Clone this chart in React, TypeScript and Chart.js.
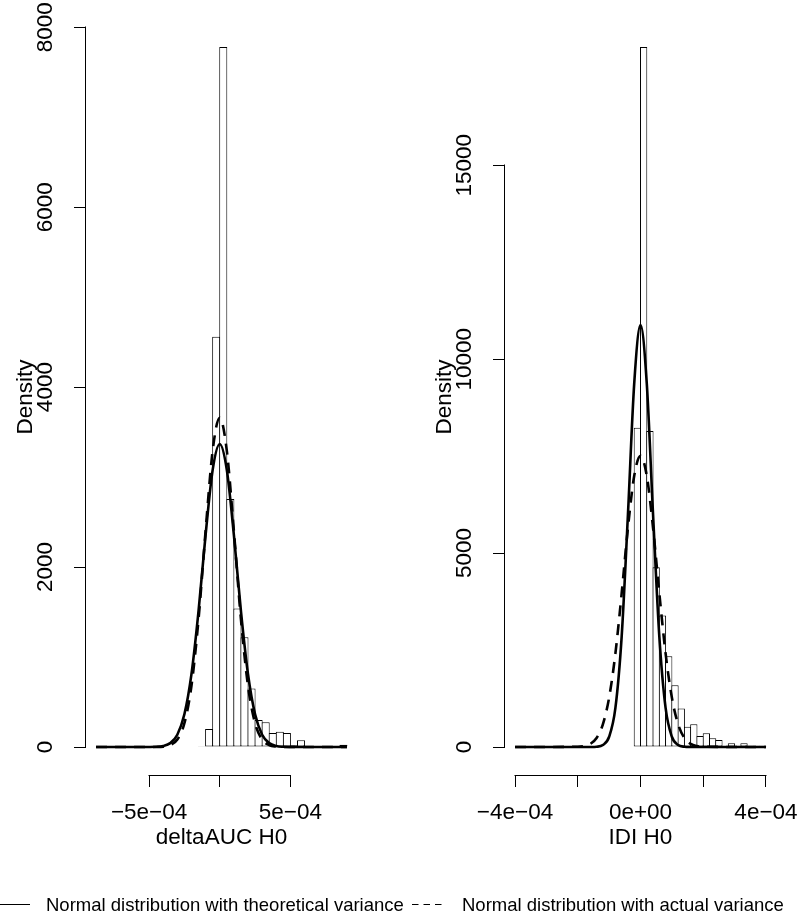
import { useEffect, useRef } from 'react';
import { Chart, registerables } from 'chart.js';

Chart.register(...registerables);

// ---------- Left panel: deltaAUC H0 ----------
const aucBinStart = -1.5e-4;
const aucBinWidth = 5e-5;
const aucDensity = [8, 200, 4560, 7780, 2755, 1540, 1220, 650, 300, 275, 155, 170, 155, 20, 75, 10, 5, 5, 2, 2, 25];
const aucCurveX = [-8.75e-4, -6e-4, -5e-4, -4.5e-4, -4e-4, -3.5e-4, -3e-4, -2.5e-4, -2e-4, -1.5e-4, -1e-4, -5e-5, 0, 5e-5, 1e-4, 1.5e-4, 2e-4, 2.5e-4, 3e-4, 3.5e-4, 4e-4, 4.5e-4, 5e-4, 6e-4, 9e-4];
const aucTheoretical = [0, 0, 0.5, 2.5, 11.3, 43, 136.6, 363.7, 810, 1511, 2358, 3080, 3367, 3080, 2358, 1511, 810, 363.7, 136.6, 43, 11.3, 2.5, 0.5, 0, 0];
const aucActual = [0, 0, 0.1, 0.7, 4.4, 21.1, 82.9, 263.7, 680, 1420, 2403, 3294, 3660, 3294, 2403, 1420, 680, 263.7, 82.9, 21.1, 4.4, 0.7, 0.1, 0, 0];
const aucXTicks = [-5e-4, 0, 5e-4];
const aucXLabels = ['−5e−04', '', '5e−04'];
const aucYTicks = [0, 2000, 4000, 6000, 8000];
const aucYLabels = ['0', '2000', '4000', '6000', '8000'];
const aucXTitle = 'deltaAUC H0';

// ---------- Right panel: IDI H0 ----------
const idiBinStart = -2e-5;
const idiBinWidth = 2e-5;
const idiDensity = [8234, 18050, 8150, 4635, 3393, 2339, 1590, 995, 522, 585, 283, 352, 224, 180, 25, 95, 30, 95, 20, 30, 30];
const idiCurveX = [-4e-4, -2e-4, -1.8e-4, -1.6e-4, -1.4e-4, -1.2e-4, -1e-4, -8e-5, -6e-5, -4e-5, -2e-5, 0, 2e-5, 4e-5, 6e-5, 8e-5, 1e-4, 1.2e-4, 1.4e-4, 1.6e-4, 1.8e-4, 2e-4, 4e-4];
const idiTheoretical = [0, 0, 0.1, 0.8, 7.4, 51.4, 264, 1007, 2853, 6001, 9376, 10880, 9376, 6001, 2853, 1007, 264, 51.4, 7.4, 0.8, 0.1, 0, 0];
const idiActual = [0, 6.2, 24, 80, 232, 584, 1275, 2412, 3965, 5652, 6992, 7506, 6992, 5652, 3965, 2412, 1275, 584, 232, 80, 24, 6.2, 0];
const idiXTicks = [-4e-4, -2e-4, 0, 2e-4, 4e-4];
const idiXLabels = ['−4e−04', '', '0e+00', '', '4e−04'];
const idiYTicks = [0, 5000, 10000, 15000];
const idiYLabels = ['0', '5000', '10000', '15000'];
const idiXTitle = 'IDI H0';

const yTitle = 'Density';
const legendLabels = ['Normal distribution with theoretical variance', 'Normal distribution with actual variance'];

const FAMILY = '"Liberation Sans", Arial, Helvetica, sans-serif';
const TICK_SIZE = 22.5;
const LEGEND_SIZE = 18.5;

function measure(text: string, size: number) {
  const c = document.createElement('canvas').getContext('2d')!;
  c.font = `${size}px ${FAMILY}`;
  return c.measureText(text).width;
}

interface PanelSpec {
  binStart: number;
  binWidth: number;
  density: number[];
  curveX: number[];
  theo: number[];
  actual: number[];
  xTicks: number[];
  xLabels: string[];
  yTicks: number[];
  yLabels: string[];
  xTitle: string;
  padRight: number;
  barPct: number;
  legend: boolean;
}

function buildConfig(p: PanelSpec): any {
  const curveLo = p.curveX[0];
  const curveHi = p.curveX[p.curveX.length - 1];
  const histLo = p.binStart;
  const histHi = p.binStart + p.binWidth * p.density.length;
  const lo = Math.min(curveLo, histLo);
  const hi = Math.max(curveHi, histHi);
  const xPad = (hi - lo) * 0.04;
  const yMax = Math.max(...p.density);
  const yPad = yMax * 0.04;

  const widest = Math.max(...p.yLabels.map((l) => measure(l, TICK_SIZE)));
  const yTickPad = 40 - 12 - widest / 2;

  const font = { family: FAMILY, size: TICK_SIZE };

  const axisPlugin = {
    id: 'rAxes',
    afterDraw(chart: any) {
      const ctx = chart.ctx;
      const xs = chart.scales.x;
      const ys = chart.scales.y;
      const ca = chart.chartArea;
      ctx.save();
      ctx.strokeStyle = '#000';
      ctx.lineWidth = 1;
      const yb = Math.round(ca.bottom) + 0.5;
      ctx.beginPath();
      ctx.moveTo(Math.round(xs.getPixelForValue(p.xTicks[0])) - 0.5, yb);
      ctx.lineTo(Math.round(xs.getPixelForValue(p.xTicks[p.xTicks.length - 1])) + 0.5, yb);
      ctx.stroke();
      const xl = Math.round(ca.left) - 0.5;
      ctx.beginPath();
      ctx.moveTo(xl, Math.round(ys.getPixelForValue(p.yTicks[0])) + 0.5);
      ctx.lineTo(xl, Math.round(ys.getPixelForValue(p.yTicks[p.yTicks.length - 1])) - 0.5);
      ctx.stroke();

      if (p.legend) {
        ctx.font = `${LEGEND_SIZE}px ${FAMILY}`;
        ctx.fillStyle = '#000';
        ctx.textBaseline = 'alphabetic';
        ctx.textAlign = 'left';
        ctx.beginPath();
        ctx.moveTo(0, 904.5);
        ctx.lineTo(30, 904.5);
        ctx.stroke();
        ctx.fillText(legendLabels[0], 46, 911);
        ctx.setLineDash([6.5, 5]);
        ctx.beginPath();
        ctx.moveTo(412, 904.5);
        ctx.lineTo(442, 904.5);
        ctx.stroke();
        ctx.setLineDash([]);
        ctx.fillText(legendLabels[1], 462, 911);
      }
      ctx.restore();
    },
  };

  return {
    type: 'bar',
    data: {
      datasets: [
        {
          type: 'line',
          label: legendLabels[0],
          data: p.curveX.map((x, i) => ({ x, y: p.theo[i] })),
          borderColor: '#000',
          borderWidth: 2.6,
          pointRadius: 0,
          fill: false,
          cubicInterpolationMode: 'monotone',
          order: 0,
        },
        {
          type: 'line',
          label: legendLabels[1],
          data: p.curveX.map((x, i) => ({ x, y: p.actual[i] })),
          borderColor: '#000',
          borderWidth: 2.6,
          borderDash: [11, 8],
          pointRadius: 0,
          fill: false,
          cubicInterpolationMode: 'monotone',
          order: 1,
        },
        {
          type: 'bar',
          label: 'hist',
          data: p.density.map((d, i) => ({ x: p.binStart + (i + 0.5) * p.binWidth, y: d })),
          backgroundColor: '#fff',
          borderColor: '#000',
          borderWidth: 1,
          borderSkipped: false,
          barPercentage: p.barPct,
          categoryPercentage: 1,
          inflateAmount: 0,
          order: 2,
        },
      ],
    },
    options: {
      animation: false,
      responsive: false,
      maintainAspectRatio: false,
      devicePixelRatio: 1,
      events: [],
      layout: { padding: { top: 19, right: p.padRight, bottom: 0, left: 0 } },
      plugins: { legend: { display: false }, tooltip: { enabled: false } },
      scales: {
        x: {
          type: 'linear',
          min: lo - xPad,
          max: hi + xPad,
          offset: false,
          grid: { offset: false, drawOnChartArea: false, drawTicks: true, tickLength: 12, color: '#000', lineWidth: 1 },
          border: { display: false },
          ticks: {
            autoSkip: false,
            maxRotation: 0,
            minRotation: 0,
            padding: 12.5,
            color: '#000',
            font,
            callback: (_v: any, i: number) => p.xLabels[i],
          },
          afterBuildTicks: (s: any) => {
            s.ticks = p.xTicks.map((v) => ({ value: v }));
          },
          afterFit: (s: any) => {
            s.height = 139;
            s.paddingLeft = 0;
            s.paddingRight = 0;
          },
          title: {
            display: true,
            text: p.xTitle,
            color: '#000',
            font,
            padding: { top: 0, bottom: 62.5 },
          },
        },
        y: {
          type: 'linear',
          min: -yPad,
          max: yMax + yPad,
          grid: { drawOnChartArea: false, drawTicks: true, tickLength: 12, color: '#000', lineWidth: 1 },
          border: { display: false },
          ticks: {
            autoSkip: false,
            minRotation: 90,
            maxRotation: 90,
            crossAlign: 'center',
            padding: yTickPad,
            color: '#000',
            font,
            callback: (_v: any, i: number) => p.yLabels[i],
          },
          afterBuildTicks: (s: any) => {
            s.ticks = p.yTicks.map((v) => ({ value: v }));
          },
          afterFit: (s: any) => {
            s.width = 86;
            s.paddingTop = 0;
            s.paddingBottom = 0;
          },
          title: {
            display: true,
            text: yTitle,
            color: '#000',
            font,
            padding: { top: 12, bottom: 0 },
          },
        },
      },
    },
    plugins: [axisPlugin],
  };
}

export default function App() {
  const leftRef = useRef<HTMLCanvasElement>(null);
  const rightRef = useRef<HTMLCanvasElement>(null);

  useEffect(() => {
    const c1 = new Chart(
      leftRef.current!,
      buildConfig({
        binStart: aucBinStart,
        binWidth: aucBinWidth,
        density: aucDensity,
        curveX: aucCurveX,
        theo: aucTheoretical,
        actual: aucActual,
        xTicks: aucXTicks,
        xLabels: aucXLabels,
        yTicks: aucYTicks,
        yLabels: aucYLabels,
        xTitle: aucXTitle,
        padRight: 443,
        barPct: 1.14,
        legend: true,
      })
    );
    const c2 = new Chart(
      rightRef.current!,
      buildConfig({
        binStart: idiBinStart,
        binWidth: idiBinWidth,
        density: idiDensity,
        curveX: idiCurveX,
        theo: idiTheoretical,
        actual: idiActual,
        xTicks: idiXTicks,
        xLabels: idiXLabels,
        yTicks: idiYTicks,
        yLabels: idiYLabels,
        xTitle: idiXTitle,
        padRight: 24,
        barPct: 1.16,
        legend: false,
      })
    );
    return () => {
      c1.destroy();
      c2.destroy();
    };
  }, []);

  return (
    <div style={{ position: 'absolute', left: 0, top: 0, width: 800, height: 914, background: '#fff' }}>
      <canvas ref={leftRef} width={800} height={914} style={{ position: 'absolute', left: 0, top: 0 }} />
      <canvas ref={rightRef} width={381} height={914} style={{ position: 'absolute', left: 419, top: 0 }} />
    </div>
  );
}
